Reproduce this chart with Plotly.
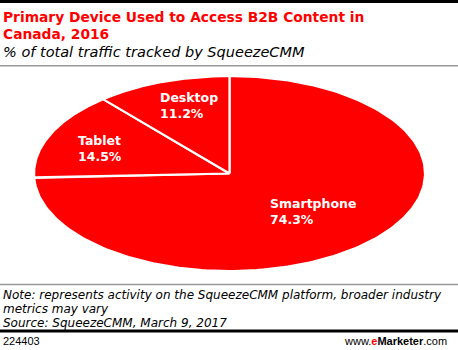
import numpy as np
import plotly.graph_objects as go

# ---- data ----
categories = ["Smartphone", "Tablet", "Desktop"]
shares = [74.3, 14.5, 11.2]

title_lines = ["Primary Device Used to Access B2B Content in", "Canada, 2016"]
subtitle = "% of total traffic tracked by SqueezeCMM"
note_lines = [
    "Note: represents activity on the SqueezeCMM platform, broader industry",
    "metrics may vary",
    "Source: SqueezeCMM, March 9, 2017",
]
chart_id = "224403"

# ---- layout / style ----
W, H = 458, 350
RED = "#FF0000"
cx, cy = 229.5, 173.5   # ellipse centre (px)
ra, rb = 195.5, 97.5    # semi axes (px)
label_pos = {"Smartphone": (268, 211), "Tablet": (76, 148), "Desktop": (158, 105)}

fig = go.Figure()

total = sum(shares)
start = 0.0
for name, v in zip(categories, shares):
    end = start + v / total * 360.0
    th = np.radians(np.linspace(start, end, 200))
    xs = np.concatenate([[cx], cx + ra * np.sin(th), [cx]])
    ys = np.concatenate([[cy], cy - rb * np.cos(th), [cy]])
    fig.add_trace(go.Scatter(
        x=xs, y=ys, mode="lines", fill="toself", fillcolor=RED,
        line=dict(color="white", width=2.2), hoverinfo="text",
        text=f"{name}: {v}%", showlegend=False))
    start = end

for name, v in zip(categories, shares):
    lx, ly = label_pos[name]
    fig.add_annotation(x=lx, y=ly, xref="x", yref="y", xanchor="left", yanchor="middle",
                       text=f"<b>{name}<br>{v}%</b>", showarrow=False, align="left",
                       font=dict(family="DejaVu Sans", size=12.5, color="white"))

# titles
fig.add_annotation(x=1, y=16.5, xref="x", yref="y", xanchor="left", yanchor="middle",
                   text=f"<b>{title_lines[0]}</b>", showarrow=False,
                   font=dict(family="DejaVu Sans", size=13.8, color=RED))
fig.add_annotation(x=1, y=33.5, xref="x", yref="y", xanchor="left", yanchor="middle",
                   text=f"<b>{title_lines[1]}</b>", showarrow=False,
                   font=dict(family="DejaVu Sans", size=13.8, color=RED))
fig.add_annotation(x=1, y=51.5, xref="x", yref="y", xanchor="left", yanchor="middle",
                   text=f"<i>{subtitle}</i>", showarrow=False,
                   font=dict(family="DejaVu Sans", size=14.5, color="black"))

for i, t in enumerate(note_lines):
    fig.add_annotation(x=1, y=294.5 + i * 14, xref="x", yref="y", xanchor="left", yanchor="middle",
                       text=f"<i>{t}</i>", showarrow=False,
                       font=dict(family="DejaVu Sans", size=12, color="black"))

fig.add_annotation(x=1, y=341, xref="x", yref="y", xanchor="left", yanchor="middle",
                   text=chart_id, showarrow=False,
                   font=dict(family="Liberation Sans", size=11, color="black"))
fig.add_annotation(x=449, y=341, xref="x", yref="y", xanchor="right", yanchor="middle",
                   text="www.<b><span style='color:#FF0000'>e</span>Marketer</b>.com", showarrow=False,
                   font=dict(family="Liberation Sans", size=11, color="black"))

# rules
fig.add_shape(type="line", x0=0, x1=W, y0=1.5, y1=1.5, xref="x", yref="y",
              line=dict(color="black", width=3))
fig.add_shape(type="line", x0=0, x1=W, y0=65.7, y1=65.7, xref="x", yref="y",
              line=dict(color="#999999", width=1.5))
fig.add_shape(type="line", x0=0, x1=W, y0=284.5, y1=284.5, xref="x", yref="y",
              line=dict(color="#999999", width=1.5))
fig.add_shape(type="line", x0=0, x1=W, y0=331, y1=331, xref="x", yref="y",
              line=dict(color="black", width=3))

fig.update_layout(
    width=W, height=H, margin=dict(l=0, r=0, t=0, b=0),
    paper_bgcolor="white", plot_bgcolor="white",
    xaxis=dict(range=[0, W], visible=False, fixedrange=True),
    yaxis=dict(range=[H, 0], visible=False, fixedrange=True),
)

fig.write_html("out.html")
